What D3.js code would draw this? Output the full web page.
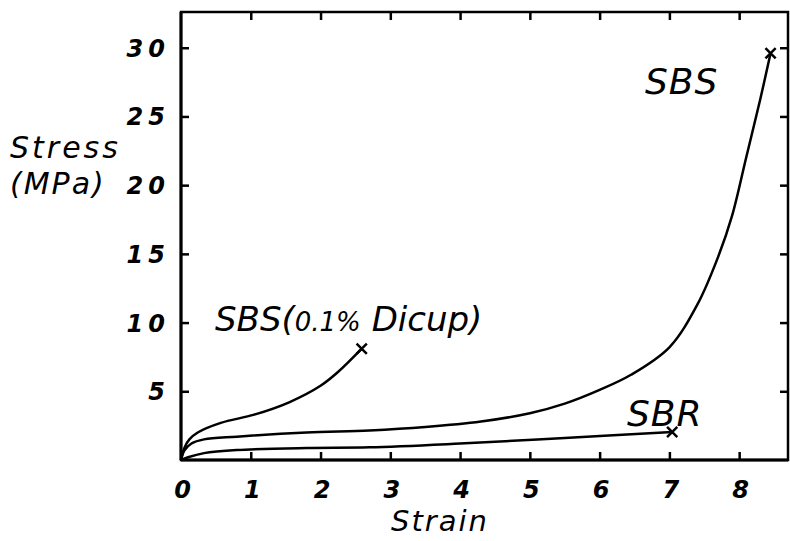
<!DOCTYPE html>
<html>
<head>
<meta charset="utf-8">
<script src="https://cdn.jsdelivr.net/npm/d3@7"></script>
<style>
  body { margin: 0; background: #fff; }
  svg text { font-family: "DejaVu Sans", sans-serif; font-style: italic; fill: #000; }
  .tick-label { font-weight: bold; font-size: 24px; letter-spacing: 5px; }
  .axis-title { font-size: 30px; letter-spacing: 2px; }
  .curve-label { font-size: 36px; letter-spacing: 1px; }
</style>
</head>
<body>
<div id="chart"></div>
<script>
// stress-strain curves
var sbsStrain = [0, 0.05, 0.15, 0.33, 0.8, 1.8, 2.7, 3.5, 4.3, 5.0, 5.5, 6.0, 6.45, 7.0, 7.4, 7.7, 7.9, 8.1, 8.3, 8.45];
var sbsStress = [0, 0.7, 1.2, 1.5, 1.7, 2.0, 2.15, 2.4, 2.8, 3.4, 4.1, 5.1, 6.2, 8.2, 11.3, 14.8, 17.8, 22.0, 26.2, 29.6];

var dicupStrain = [0, 0.05, 0.12, 0.24, 0.57, 1.05, 1.55, 2.0, 2.25, 2.59];
var dicupStress = [0, 0.9, 1.5, 2.0, 2.7, 3.3, 4.2, 5.4, 6.4, 8.1];

var sbrStrain = [0, 0.1, 0.33, 0.8, 1.8, 2.7, 4.0, 5.5, 7.04];
var sbrStress = [0, 0.2, 0.5, 0.72, 0.87, 0.92, 1.2, 1.6, 2.03];

var xTicks = [0, 1, 2, 3, 4, 5, 6, 7, 8];
var yTicks = [5, 10, 15, 20, 25, 30];

var width = 790;
var height = 541;

var svg = d3.select('#chart').append('svg')
  .attr('width', width)
  .attr('height', height);

var xScale = d3.scaleLinear()
  .domain([0, 8.7])
  .range([181, 788]);

var yScale = d3.scaleLinear()
  .domain([0, 32.6])
  .range([460, 12]);

function zip(xs, ys) {
  return xs.map(function(x, i) { return [x, ys[i]]; });
}

// frame
svg.append('rect')
  .attr('x', xScale(0))
  .attr('y', yScale(32.6))
  .attr('width', xScale(8.7) - xScale(0))
  .attr('height', yScale(0) - yScale(32.6))
  .attr('fill', 'none')
  .attr('stroke', '#000')
  .attr('stroke-width', 2.5);

// left and bottom axes a bit heavier
svg.append('line')
  .attr('x1', xScale(0)).attr('x2', xScale(0))
  .attr('y1', yScale(0)).attr('y2', yScale(32.6))
  .attr('stroke', '#000').attr('stroke-width', 3);
svg.append('line')
  .attr('x1', xScale(0)).attr('x2', xScale(8.7))
  .attr('y1', yScale(0)).attr('y2', yScale(0))
  .attr('stroke', '#000').attr('stroke-width', 3);

// inward ticks on all four sides
var tickLen = 8;
var xAxisBottom = d3.axisBottom(xScale).tickValues(xTicks.slice(1)).tickSize(-tickLen).tickFormat('');
var xAxisTop = d3.axisTop(xScale).tickValues(xTicks.slice(1)).tickSize(-tickLen).tickFormat('');
var yAxisLeft = d3.axisLeft(yScale).tickValues(yTicks).tickSize(-tickLen).tickFormat('');
var yAxisRight = d3.axisRight(yScale).tickValues(yTicks).tickSize(-tickLen).tickFormat('');

[
  [xAxisBottom, 'translate(0,' + yScale(0) + ')'],
  [xAxisTop, 'translate(0,' + yScale(32.6) + ')'],
  [yAxisLeft, 'translate(' + xScale(0) + ',0)'],
  [yAxisRight, 'translate(' + xScale(8.7) + ',0)']
].forEach(function(a) {
  var g = svg.append('g').attr('transform', a[1]).call(a[0]);
  g.select('.domain').remove();
  g.selectAll('line').attr('stroke', '#000').attr('stroke-width', 2.5);
});

// tick labels
svg.selectAll('.x-label')
  .data(xTicks)
  .enter()
  .append('text')
  .attr('class', 'tick-label')
  .attr('x', function(d) { return xScale(d) + 4; })
  .attr('y', 498)
  .attr('text-anchor', 'middle')
  .text(function(d) { return d; });

svg.selectAll('.y-label')
  .data(yTicks)
  .enter()
  .append('text')
  .attr('class', 'tick-label')
  .attr('x', 170)
  .attr('y', function(d) { return yScale(d) + 9; })
  .attr('text-anchor', 'end')
  .text(function(d) { return d; });

// axis titles
svg.append('text')
  .attr('class', 'axis-title')
  .attr('x', 10)
  .attr('y', 158)
  .style('letter-spacing', '3px')
  .text('Stress');
svg.append('text')
  .attr('class', 'axis-title')
  .attr('x', 10)
  .attr('y', 194)
  .text('(MPa)');
svg.append('text')
  .attr('class', 'axis-title')
  .attr('x', 440)
  .attr('y', 531)
  .attr('text-anchor', 'middle')
  .style('font-size', '29px')
  .text('Strain');

// curves
var line = d3.line()
  .x(function(d) { return xScale(d[0]); })
  .y(function(d) { return yScale(d[1]); })
  .curve(d3.curveCatmullRom.alpha(0.5));

var curves = [zip(sbsStrain, sbsStress), zip(dicupStrain, dicupStress), zip(sbrStrain, sbrStress)];

svg.selectAll('.curve')
  .data(curves)
  .enter()
  .append('path')
  .attr('class', 'curve')
  .attr('d', line)
  .attr('fill', 'none')
  .attr('stroke', '#000')
  .attr('stroke-width', 2.5);

// break points
var cross = d3.symbol().type(d3.symbolX).size(70);
svg.selectAll('.break')
  .data(curves.map(function(c) { return c[c.length - 1]; }))
  .enter()
  .append('path')
  .attr('class', 'break')
  .attr('d', cross)
  .attr('transform', function(d) { return 'translate(' + xScale(d[0]) + ',' + yScale(d[1]) + ')'; })
  .attr('fill', 'none')
  .attr('stroke', '#000')
  .attr('stroke-width', 2.5);

// curve labels
svg.append('text').attr('class', 'curve-label').attr('x', 645).attr('y', 94).text('SBS');
var dicupLabel = svg.append('text').attr('class', 'curve-label')
  .attr('x', 215).attr('y', 331)
  .style('font-size', '34px').style('letter-spacing', '0px');
dicupLabel.append('tspan').text('SBS(');
dicupLabel.append('tspan').style('font-size', '26px').text('0.1%');
dicupLabel.append('tspan').text(' Dicup)');
svg.append('text').attr('class', 'curve-label').attr('x', 627).attr('y', 426).text('SBR');
</script>
</body>
</html>
